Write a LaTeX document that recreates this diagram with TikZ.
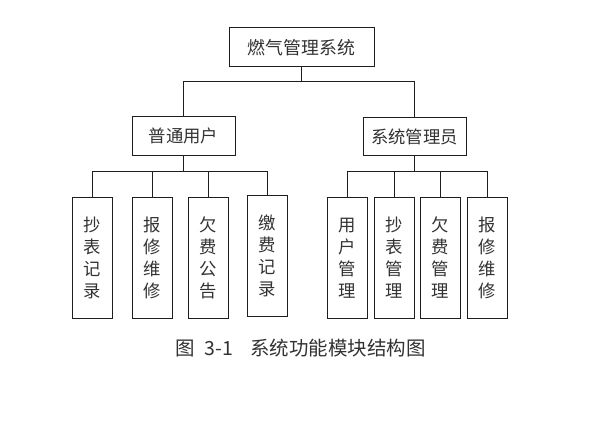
\documentclass[tikz,border=0pt]{standalone}
\usepackage{fontspec}
\newfontfamily\cjk{Noto Sans CJK SC}
\definecolor{txt}{RGB}{50,50,50}
\definecolor{ln}{RGB}{30,30,30}
\begin{document}
\begin{tikzpicture}[x=0.75pt,y=-0.75pt,
  every node/.style={font=\cjk, text=txt},
  box/.style={draw=ln, line width=0.75pt, inner sep=0pt, fill=white},
  topbox/.style={box, minimum width=108.75pt, minimum height=29.25pt, font=\cjk\fontsize{13.4pt}{16pt}\selectfont},
  midbox/.style={box, minimum width=77.25pt, minimum height=28.5pt, font=\cjk\fontsize{13pt}{16pt}\selectfont},
  leafbox/.style={box, minimum width=30pt, minimum height=90.75pt, align=center, font=\cjk\fontsize{13pt}{16.5pt}\selectfont},
  conn/.style={draw=ln, line width=0.75pt}]
\path[use as bounding box, fill=white] (0,0) rectangle (616,431);

\node[topbox] (top) at (301.5,47.5) {燃气管理系统};
\node[midbox] (u) at (183.5,136) {普通用户};
\node[midbox] (a) at (414.5,136.5) {系统管理员};

\node[leafbox] (u1) at (92.5,257.5) {抄\\表\\记\\录};
\node[leafbox] (u2) at (152,257.5) {报\\修\\维\\修};
\node[leafbox] (u3) at (208.5,257.5) {欠\\费\\公\\告};
\node[leafbox] (u4) at (267.5,256) {缴\\费\\记\\录};

\node[leafbox] (a1) at (347.5,258) {用\\户\\管\\理};
\node[leafbox] (a2) at (394.5,258) {抄\\表\\管\\理};
\node[leafbox] (a3) at (440.5,258) {欠\\费\\管\\理};
\node[leafbox] (a4) at (487.5,258) {报\\修\\维\\修};

\coordinate (b0) at (301.5,82);
\coordinate (bu) at (183.5,171);
\coordinate (ba) at (414.5,171);

\draw[conn] (top.south) -- (b0) -| (u.north);
\draw[conn] (b0) -| (a.north);
\draw[conn] (u.south) -- (bu);
\draw[conn] (bu) -| (u1.north);
\draw[conn] (bu) -| (u2.north);
\draw[conn] (bu) -| (u3.north);
\draw[conn] (bu) -| (u4.north);
\draw[conn] (a.south) -- (ba);
\draw[conn] (ba) -| (a1.north);
\draw[conn] (ba) -| (a2.north);
\draw[conn] (ba) -| (a3.north);
\draw[conn] (ba) -| (a4.north);

\node[font=\cjk\fontsize{14.6pt}{17pt}\selectfont] (cap) at (300.5,348) {图\hspace{0.5em}3-1\hspace{0.9em}系统功能模块结构图};
\end{tikzpicture}
\end{document}
